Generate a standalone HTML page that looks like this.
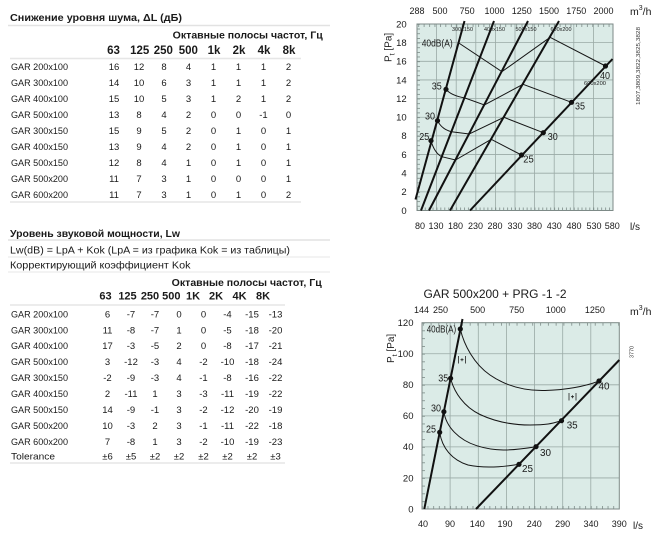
<!DOCTYPE html>
<html><head><meta charset="utf-8"><style>html,body{margin:0;padding:0;background:#fff}svg{display:block}</style></head>
<body>
<svg width="662" height="540" viewBox="0 0 662 540" xmlns="http://www.w3.org/2000/svg" font-family="'Liberation Sans', Arial, sans-serif">
<defs>
 <pattern id="p1x" patternUnits="userSpaceOnUse" x="417" y="0" width="3.92" height="540"><rect x="0" y="0" width="0.7" height="540" fill="#6f7d7a"/></pattern>
 <pattern id="p1t" patternUnits="userSpaceOnUse" x="418.3" y="0" width="5.44" height="540"><rect x="0" y="0" width="0.7" height="540" fill="#6f7d7a"/></pattern>
 <pattern id="p1y" patternUnits="userSpaceOnUse" x="0" y="24" width="662" height="4.6625"><rect x="0" y="0" width="662" height="0.7" fill="#6f7d7a"/></pattern>
 <pattern id="p2x" patternUnits="userSpaceOnUse" x="422" y="0" width="5.627" height="540"><rect x="0" y="0" width="0.7" height="540" fill="#6f7d7a"/></pattern>
 <pattern id="p2t" patternUnits="userSpaceOnUse" x="422.9" y="0" width="7.815" height="540"><rect x="0" y="0" width="0.7" height="540" fill="#6f7d7a"/></pattern>
 <pattern id="p2y" patternUnits="userSpaceOnUse" x="0" y="322.7" width="662" height="7.7625"><rect x="0" y="0" width="662" height="0.7" fill="#6f7d7a"/></pattern>
</defs>
<rect width="662" height="540" fill="#fff"/>

<!-- ============ TABLE 1 ============ -->
<g fill="#1a1a1a">
<text x="10" y="21" font-size="10.5" font-weight="bold" textLength="172" lengthAdjust="spacingAndGlyphs">Снижение уровня шума, ΔL (дБ)</text>
<line x1="8" y1="25.5" x2="330" y2="25.5" stroke="#e2e2e2" stroke-width="1.5"/>
<text x="172.7" y="38.5" font-size="10.5" font-weight="bold" textLength="150" lengthAdjust="spacingAndGlyphs">Октавные полосы частот, Гц</text>
<g font-size="11.5" font-weight="bold" text-anchor="middle">
<text x="113.5" y="54">63</text><text x="139.7" y="54">125</text><text x="163.3" y="54">250</text><text x="188.3" y="54">500</text><text x="214" y="54">1k</text><text x="239" y="54">2k</text><text x="264" y="54">4k</text><text x="289" y="54">8k</text>
</g>
<line x1="10" y1="58.5" x2="301" y2="58.5" stroke="#e6e6e6" stroke-width="1.5"/>
<g font-size="9.5">
<text x="11" y="70" textLength="57" lengthAdjust="spacingAndGlyphs">GAR 200x100</text>
<text x="11" y="86" textLength="57" lengthAdjust="spacingAndGlyphs">GAR 300x100</text>
<text x="11" y="102" textLength="57" lengthAdjust="spacingAndGlyphs">GAR 400x100</text>
<text x="11" y="118" textLength="57" lengthAdjust="spacingAndGlyphs">GAR 500x100</text>
<text x="11" y="134" textLength="57" lengthAdjust="spacingAndGlyphs">GAR 300x150</text>
<text x="11" y="150" textLength="57" lengthAdjust="spacingAndGlyphs">GAR 400x150</text>
<text x="11" y="166" textLength="57" lengthAdjust="spacingAndGlyphs">GAR 500x150</text>
<text x="11" y="182" textLength="57" lengthAdjust="spacingAndGlyphs">GAR 500x200</text>
<text x="11" y="198" textLength="57" lengthAdjust="spacingAndGlyphs">GAR 600x200</text>
</g>
<g font-size="9.5" text-anchor="middle">
<text y="70"><tspan x="114">16</tspan><tspan x="139">12</tspan><tspan x="164">8</tspan><tspan x="188.5">4</tspan><tspan x="213.5">1</tspan><tspan x="238.5">1</tspan><tspan x="263.5">1</tspan><tspan x="288.5">2</tspan></text>
<text y="86"><tspan x="114">14</tspan><tspan x="139">10</tspan><tspan x="164">6</tspan><tspan x="188.5">3</tspan><tspan x="213.5">1</tspan><tspan x="238.5">1</tspan><tspan x="263.5">1</tspan><tspan x="288.5">2</tspan></text>
<text y="102"><tspan x="114">15</tspan><tspan x="139">10</tspan><tspan x="164">5</tspan><tspan x="188.5">3</tspan><tspan x="213.5">1</tspan><tspan x="238.5">2</tspan><tspan x="263.5">1</tspan><tspan x="288.5">2</tspan></text>
<text y="118"><tspan x="114">13</tspan><tspan x="139">8</tspan><tspan x="164">4</tspan><tspan x="188.5">2</tspan><tspan x="213.5">0</tspan><tspan x="238.5">0</tspan><tspan x="263.5">-1</tspan><tspan x="288.5">0</tspan></text>
<text y="134"><tspan x="114">15</tspan><tspan x="139">9</tspan><tspan x="164">5</tspan><tspan x="188.5">2</tspan><tspan x="213.5">0</tspan><tspan x="238.5">1</tspan><tspan x="263.5">0</tspan><tspan x="288.5">1</tspan></text>
<text y="150"><tspan x="114">13</tspan><tspan x="139">9</tspan><tspan x="164">4</tspan><tspan x="188.5">2</tspan><tspan x="213.5">0</tspan><tspan x="238.5">1</tspan><tspan x="263.5">0</tspan><tspan x="288.5">1</tspan></text>
<text y="166"><tspan x="114">12</tspan><tspan x="139">8</tspan><tspan x="164">4</tspan><tspan x="188.5">1</tspan><tspan x="213.5">0</tspan><tspan x="238.5">1</tspan><tspan x="263.5">0</tspan><tspan x="288.5">1</tspan></text>
<text y="182"><tspan x="114">11</tspan><tspan x="139">7</tspan><tspan x="164">3</tspan><tspan x="188.5">1</tspan><tspan x="213.5">0</tspan><tspan x="238.5">0</tspan><tspan x="263.5">0</tspan><tspan x="288.5">1</tspan></text>
<text y="198"><tspan x="114">11</tspan><tspan x="139">7</tspan><tspan x="164">3</tspan><tspan x="188.5">1</tspan><tspan x="213.5">0</tspan><tspan x="238.5">1</tspan><tspan x="263.5">0</tspan><tspan x="288.5">2</tspan></text>
</g>
<line x1="10" y1="202" x2="301" y2="202" stroke="#e6e6e6" stroke-width="1.5"/>

<!-- ============ TABLE 2 ============ -->
<text x="10" y="237" font-size="10.5" font-weight="bold" textLength="170" lengthAdjust="spacingAndGlyphs">Уровень звуковой мощности, Lw</text>
<line x1="8" y1="240" x2="330" y2="240" stroke="#e2e2e2" stroke-width="1.5"/>
<text x="10" y="253.5" font-size="10" textLength="280" lengthAdjust="spacingAndGlyphs">Lw(dB) = LpA + Kok (LpA = из графика Kok = из таблицы)</text>
<line x1="8" y1="257" x2="330" y2="257" stroke="#ececec" stroke-width="1.2"/>
<text x="10" y="268.5" font-size="10" textLength="180.5" lengthAdjust="spacingAndGlyphs">Корректирующий коэффициент Kok</text>
<line x1="8" y1="272" x2="330" y2="272" stroke="#ececec" stroke-width="1.2"/>
<text x="171.7" y="286" font-size="10.5" font-weight="bold" textLength="150" lengthAdjust="spacingAndGlyphs">Октавные полосы частот, Гц</text>
<g font-size="11" font-weight="bold" text-anchor="middle">
<text x="105.5" y="299.5">63</text><text x="127.5" y="299.5">125</text><text x="150" y="299.5">250</text><text x="171.3" y="299.5">500</text><text x="193" y="299.5">1K</text><text x="216" y="299.5">2K</text><text x="239.5" y="299.5">4K</text><text x="263" y="299.5">8K</text>
</g>
<line x1="10" y1="305" x2="285" y2="305" stroke="#e6e6e6" stroke-width="1.5"/>
<g font-size="9.5">
<text x="11" y="317.5" textLength="57" lengthAdjust="spacingAndGlyphs">GAR 200x100</text>
<text x="11" y="333.5" textLength="57" lengthAdjust="spacingAndGlyphs">GAR 300x100</text>
<text x="11" y="349" textLength="57" lengthAdjust="spacingAndGlyphs">GAR 400x100</text>
<text x="11" y="365" textLength="57" lengthAdjust="spacingAndGlyphs">GAR 500x100</text>
<text x="11" y="381" textLength="57" lengthAdjust="spacingAndGlyphs">GAR 300x150</text>
<text x="11" y="397" textLength="57" lengthAdjust="spacingAndGlyphs">GAR 400x150</text>
<text x="11" y="413" textLength="57" lengthAdjust="spacingAndGlyphs">GAR 500x150</text>
<text x="11" y="429" textLength="57" lengthAdjust="spacingAndGlyphs">GAR 500x200</text>
<text x="11" y="445" textLength="57" lengthAdjust="spacingAndGlyphs">GAR 600x200</text>
<text x="11" y="459.5" textLength="44" lengthAdjust="spacingAndGlyphs">Tolerance</text>
</g>
<g font-size="9.5" text-anchor="middle">
<text y="317.5"><tspan x="107.5">6</tspan><tspan x="131">-7</tspan><tspan x="155">-7</tspan><tspan x="179">0</tspan><tspan x="203.5">0</tspan><tspan x="227.5">-4</tspan><tspan x="252">-15</tspan><tspan x="275.5">-13</tspan></text>
<text y="333.5"><tspan x="107.5">11</tspan><tspan x="131">-8</tspan><tspan x="155">-7</tspan><tspan x="179">1</tspan><tspan x="203.5">0</tspan><tspan x="227.5">-5</tspan><tspan x="252">-18</tspan><tspan x="275.5">-20</tspan></text>
<text y="349"><tspan x="107.5">17</tspan><tspan x="131">-3</tspan><tspan x="155">-5</tspan><tspan x="179">2</tspan><tspan x="203.5">0</tspan><tspan x="227.5">-8</tspan><tspan x="252">-17</tspan><tspan x="275.5">-21</tspan></text>
<text y="365"><tspan x="107.5">3</tspan><tspan x="131">-12</tspan><tspan x="155">-3</tspan><tspan x="179">4</tspan><tspan x="203.5">-2</tspan><tspan x="227.5">-10</tspan><tspan x="252">-18</tspan><tspan x="275.5">-24</tspan></text>
<text y="381"><tspan x="107.5">-2</tspan><tspan x="131">-9</tspan><tspan x="155">-3</tspan><tspan x="179">4</tspan><tspan x="203.5">-1</tspan><tspan x="227.5">-8</tspan><tspan x="252">-16</tspan><tspan x="275.5">-22</tspan></text>
<text y="397"><tspan x="107.5">2</tspan><tspan x="131">-11</tspan><tspan x="155">1</tspan><tspan x="179">3</tspan><tspan x="203.5">-3</tspan><tspan x="227.5">-11</tspan><tspan x="252">-19</tspan><tspan x="275.5">-22</tspan></text>
<text y="413"><tspan x="107.5">14</tspan><tspan x="131">-9</tspan><tspan x="155">-1</tspan><tspan x="179">3</tspan><tspan x="203.5">-2</tspan><tspan x="227.5">-12</tspan><tspan x="252">-20</tspan><tspan x="275.5">-19</tspan></text>
<text y="429"><tspan x="107.5">10</tspan><tspan x="131">-3</tspan><tspan x="155">2</tspan><tspan x="179">3</tspan><tspan x="203.5">-1</tspan><tspan x="227.5">-11</tspan><tspan x="252">-22</tspan><tspan x="275.5">-18</tspan></text>
<text y="445"><tspan x="107.5">7</tspan><tspan x="131">-8</tspan><tspan x="155">1</tspan><tspan x="179">3</tspan><tspan x="203.5">-2</tspan><tspan x="227.5">-10</tspan><tspan x="252">-19</tspan><tspan x="275.5">-23</tspan></text>
<text y="459.5"><tspan x="107.5">±6</tspan><tspan x="131">±5</tspan><tspan x="155">±2</tspan><tspan x="179">±2</tspan><tspan x="203.5">±2</tspan><tspan x="227.5">±2</tspan><tspan x="252">±2</tspan><tspan x="275.5">±3</tspan></text>
</g>
<line x1="10" y1="463" x2="285" y2="463" stroke="#e6e6e6" stroke-width="1.5"/>
</g>

<!-- ============ TOP CHART ============ -->
<rect x="417" y="24" width="196" height="186.5" fill="#dbebe7"/>
<path d="M436.6,24V210.5M456.2,24V210.5M475.8,24V210.5M495.4,24V210.5M515,24V210.5M534.6,24V210.5M554.2,24V210.5M573.8,24V210.5M593.4,24V210.5M417,42.65H613M417,61.3H613M417,79.95H613M417,98.6H613M417,117.25H613M417,135.9H613M417,154.55H613M417,173.2H613M417,191.85H613" stroke="#9aaaa6" stroke-width="0.8" fill="none"/>
<rect x="417" y="207.5" width="196" height="3" fill="url(#p1x)"/>
<rect x="417" y="24" width="196" height="3" fill="url(#p1t)"/>
<rect x="417" y="24" width="3" height="186.5" fill="url(#p1y)"/>
<rect x="417" y="24" width="196" height="186.5" fill="none" stroke="#7d8a87" stroke-width="1"/>

<g fill="none" stroke="#151515" stroke-width="1">
<path d="M458.8,43 L501.9,71.7 L550.1,37.3 L605.5,66"/>
<path d="M446,89.3 Q451,95.5 465,98 L484.4,105 L523,84.3 L571.5,102.3"/>
<path d="M437.5,120.7 Q442,129.5 451.5,131.7 L469.2,134 L503.9,117.3 L543.3,132.7"/>
<path d="M431,140.7 Q434.5,153 441.8,156.7 L455.5,160 L491.2,139.3 L521.5,155"/>
</g>
<g stroke="#111" stroke-width="2" fill="none">
<line x1="415.5" y1="199.5" x2="464.5" y2="21"/>
<line x1="421" y1="210.5" x2="494" y2="21"/>
<line x1="429" y1="210.5" x2="528" y2="21"/>
<line x1="450" y1="210.5" x2="559" y2="21"/>
<line x1="470" y1="210.5" x2="612.5" y2="59"/>
</g>
<g fill="#111">
<circle cx="446" cy="89.3" r="2.6"/><circle cx="437.5" cy="120.7" r="2.6"/><circle cx="431" cy="140.7" r="2.6"/>
<circle cx="521.5" cy="155" r="2.6"/><circle cx="543.3" cy="132.7" r="2.6"/><circle cx="571.5" cy="102.3" r="2.6"/><circle cx="605.5" cy="66" r="2.6"/>
</g>
<g fill="#1a1a1a" font-size="10">
<text x="421.7" y="46.5" textLength="31" lengthAdjust="spacingAndGlyphs">40dB(A)</text>
<text x="431.7" y="89.5" textLength="10" lengthAdjust="spacingAndGlyphs">35</text>
<text x="425" y="119.5" textLength="10" lengthAdjust="spacingAndGlyphs">30</text>
<text x="419.3" y="140" textLength="10" lengthAdjust="spacingAndGlyphs">25</text>
<text x="600" y="79" textLength="10" lengthAdjust="spacingAndGlyphs">40</text>
<text x="575" y="109.5" textLength="10" lengthAdjust="spacingAndGlyphs">35</text>
<text x="547.7" y="140" textLength="10" lengthAdjust="spacingAndGlyphs">30</text>
<text x="523.3" y="162.5" textLength="10.5" lengthAdjust="spacingAndGlyphs">25</text>
</g>
<g fill="#1a1a1a" font-size="5.5">
<text x="452" y="31" textLength="21" lengthAdjust="spacingAndGlyphs">300x150</text>
<text x="484" y="31" textLength="21" lengthAdjust="spacingAndGlyphs">400x150</text>
<text x="515.5" y="31" textLength="21" lengthAdjust="spacingAndGlyphs">500x150</text>
<text x="550.5" y="31" textLength="21" lengthAdjust="spacingAndGlyphs">600x200</text>
<text x="584" y="85" textLength="22" lengthAdjust="spacingAndGlyphs">600x200</text>
</g>
<g fill="#1a1a1a" font-size="9" text-anchor="middle">
<text x="417" y="14">288</text><text x="440" y="14">500</text><text x="467.2" y="14">750</text><text x="494.5" y="14">1000</text><text x="521.8" y="14">1250</text><text x="549" y="14">1500</text><text x="576.3" y="14">1750</text><text x="603.5" y="14">2000</text>
<text x="420" y="229">80</text><text x="436" y="229">130</text><text x="455.5" y="229">180</text><text x="475.5" y="229">230</text><text x="495" y="229">280</text><text x="515" y="229">330</text><text x="534.5" y="229">380</text><text x="554.3" y="229">430</text><text x="574" y="229">480</text><text x="594" y="229">530</text><text x="612.3" y="229">580</text>
</g>
<g fill="#1a1a1a" font-size="9.5" text-anchor="end">
<text x="406.7" y="27.3">20</text><text x="406.7" y="46">18</text><text x="406.7" y="64.6">16</text><text x="406.7" y="83.3">14</text><text x="406.7" y="101.9">12</text><text x="406.7" y="120.6">10</text><text x="406.7" y="139.2">8</text><text x="406.7" y="157.9">6</text><text x="406.7" y="176.5">4</text><text x="406.7" y="195.2">2</text><text x="406.7" y="213.8">0</text>
</g>
<text transform="translate(391.5,62) rotate(-90)" font-size="10" fill="#1a1a1a">P<tspan font-size="7" dy="3">t</tspan><tspan dy="-3"> [Pa]</tspan></text>
<text x="630" y="15" font-size="10.5" fill="#1a1a1a">m<tspan font-size="7" dy="-5">3</tspan><tspan dy="5">/h</tspan></text>
<text x="630" y="230" font-size="10" fill="#1a1a1a">l/s</text>
<text transform="translate(640,105) rotate(-90)" font-size="5" fill="#333" textLength="78" lengthAdjust="spacingAndGlyphs">1807,3809,3822,3825,3828</text>

<!-- ============ BOTTOM CHART ============ -->
<text x="495" y="298" font-size="12" fill="#1a1a1a" text-anchor="middle" textLength="143" lengthAdjust="spacingAndGlyphs">GAR 500x200 + PRG -1 -2</text>
<rect x="422" y="322.7" width="197.3" height="186.3" fill="#dbebe7"/>
<path d="M450.1,322.7V509M478.3,322.7V509M506.4,322.7V509M534.5,322.7V509M562.7,322.7V509M590.8,322.7V509M422,353.75H619.3M422,384.8H619.3M422,415.85H619.3M422,446.9H619.3M422,477.95H619.3" stroke="#9aaaa6" stroke-width="0.8" fill="none"/>
<rect x="422" y="506" width="197.3" height="3" fill="url(#p2x)"/>
<rect x="422" y="322.7" width="197.3" height="3" fill="url(#p2t)"/>
<rect x="422" y="322.7" width="3" height="186.3" fill="url(#p2y)"/>
<rect x="422" y="322.7" width="197.3" height="186.3" fill="none" stroke="#7d8a87" stroke-width="1"/>

<g fill="none" stroke="#151515" stroke-width="1">
<path d="M460.3,329 C464,345 474,364 490,375 S525,391 545,390.5 S585,386.5 599,381"/>
<path d="M450.6,378.3 C454,392 464,407 480,414.5 S512,425 530,425 S552,423.5 561.5,420.7"/>
<path d="M443.9,411.7 C446,427 459,440 476.7,445.7 S510,451 536,446.7"/>
<path d="M439.7,432.3 C442,448 452,460 468,465 C482,468 500,467.5 519,464.3"/>
</g>
<g stroke="#111" stroke-width="2" fill="none">
<line x1="424.3" y1="509" x2="462.5" y2="319"/>
<line x1="476" y1="509" x2="619.3" y2="360"/>
</g>
<g fill="#111">
<circle cx="460.3" cy="329" r="2.6"/><circle cx="450.6" cy="378.3" r="2.6"/><circle cx="443.9" cy="411.7" r="2.6"/><circle cx="439.7" cy="432.3" r="2.6"/>
<circle cx="599" cy="381" r="2.6"/><circle cx="561.5" cy="420.7" r="2.6"/><circle cx="536" cy="446.7" r="2.6"/><circle cx="519" cy="464.3" r="2.6"/>
</g>
<g stroke="#222" stroke-width="0.8" fill="none">
<path d="M458.5,356V363.5M465.5,356V363.5M460.5,359.7H463.5M462,358.2V361.2"/>
<path d="M569,393V400.5M576,393V400.5M571,396.7H574M572.5,395.2V398.2"/>
</g>
<g fill="#1a1a1a" font-size="10">
<text x="426.7" y="332.5" textLength="29.5" lengthAdjust="spacingAndGlyphs">40dB(A)</text>
<text x="438.3" y="381.5" textLength="10" lengthAdjust="spacingAndGlyphs">35</text>
<text x="431" y="411.5" textLength="10" lengthAdjust="spacingAndGlyphs">30</text>
<text x="426" y="432.5" textLength="10" lengthAdjust="spacingAndGlyphs">25</text>
<text x="598.5" y="389.5" textLength="11" lengthAdjust="spacingAndGlyphs">40</text>
<text x="566.7" y="428.5" textLength="11" lengthAdjust="spacingAndGlyphs">35</text>
<text x="540" y="456" textLength="11" lengthAdjust="spacingAndGlyphs">30</text>
<text x="522" y="472" textLength="11" lengthAdjust="spacingAndGlyphs">25</text>
</g>
<g fill="#1a1a1a" font-size="9" text-anchor="middle">
<text x="421.5" y="313">144</text><text x="440.5" y="313">250</text><text x="477.6" y="313">500</text><text x="516.7" y="313">750</text><text x="555.8" y="313">1000</text><text x="594.9" y="313">1250</text>
<text x="423" y="527">40</text><text x="450" y="527">90</text><text x="477.3" y="527">140</text><text x="505" y="527">190</text><text x="534.3" y="527">240</text><text x="562.7" y="527">290</text><text x="591" y="527">340</text><text x="619.3" y="527">390</text>
</g>
<g fill="#1a1a1a" font-size="9.5" text-anchor="end">
<text x="413.5" y="326">120</text><text x="413.5" y="357">100</text><text x="413.5" y="388.1">80</text><text x="413.5" y="419.2">60</text><text x="413.5" y="450.2">40</text><text x="413.5" y="481.3">20</text><text x="413.5" y="512.3">0</text>
</g>
<text transform="translate(394,363) rotate(-90)" font-size="10" fill="#1a1a1a">P<tspan font-size="7" dy="3">t</tspan><tspan dy="-3"> [Pa]</tspan></text>
<text x="630" y="315" font-size="10.5" fill="#1a1a1a">m<tspan font-size="7" dy="-5">3</tspan><tspan dy="5">/h</tspan></text>
<text x="633" y="529" font-size="10" fill="#1a1a1a">l/s</text>
<text transform="translate(633.5,358) rotate(-90)" font-size="5" fill="#333" textLength="12" lengthAdjust="spacingAndGlyphs">3770</text>
</svg>
</body></html>
